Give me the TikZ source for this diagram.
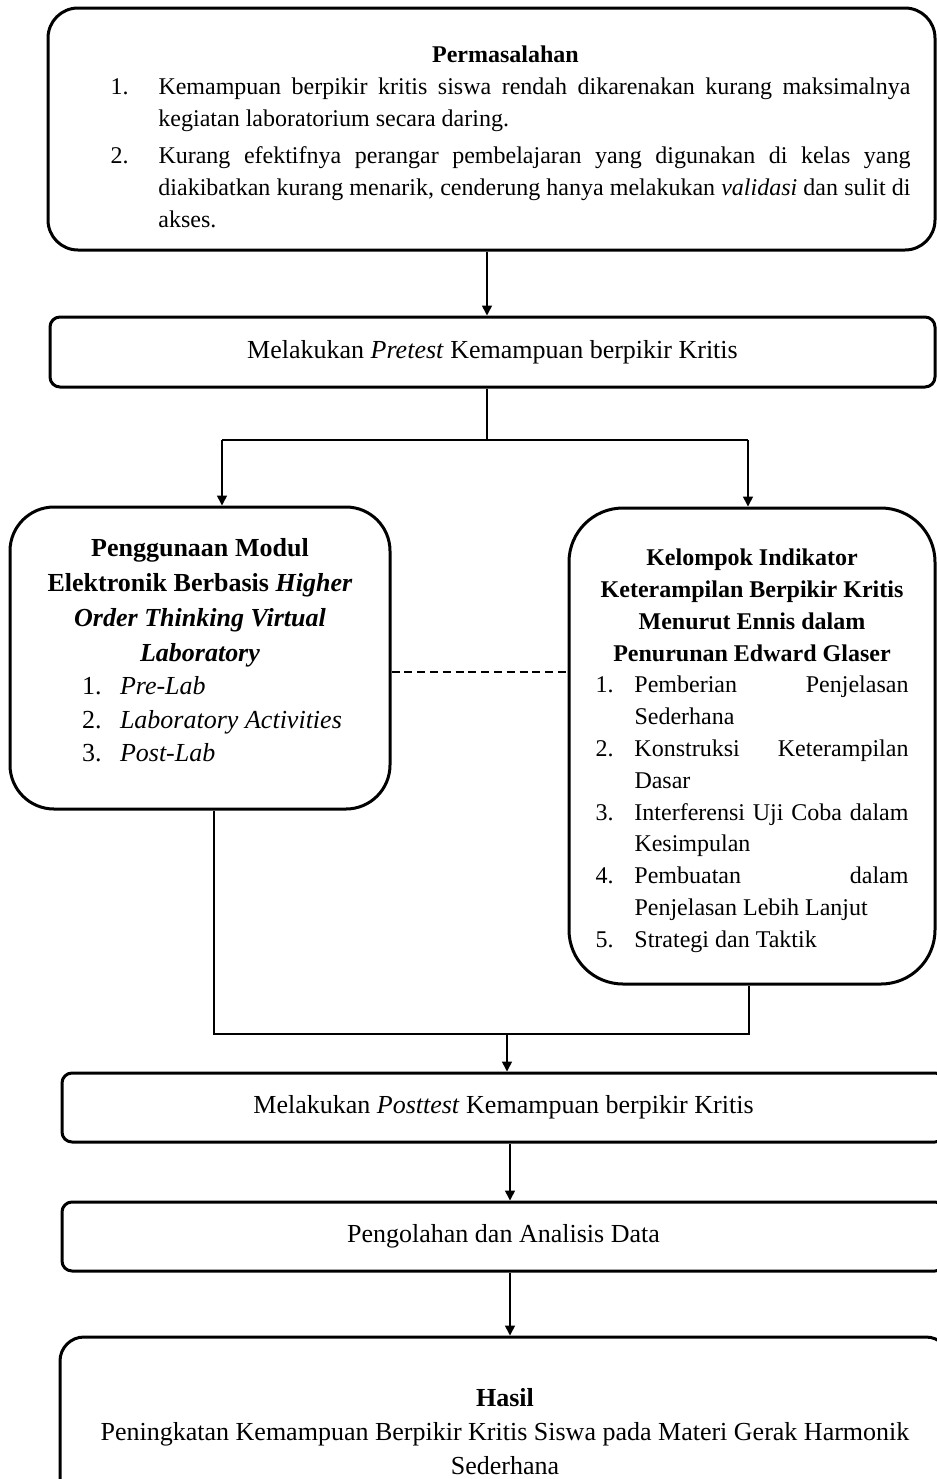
\documentclass[tikz,border=0pt]{standalone}
\usepackage{fontspec}
\setmainfont{Liberation Serif}
\usetikzlibrary{arrows.meta}
\hbadness=10000
\newcommand{\butir}[3]{\par\noindent\hangindent=#1\hangafter=1\makebox[#1][l]{#2}#3\par}

\tikzset{
  kotak/.style={draw, line width=1.5pt, inner sep=0pt, rounded corners=5pt},
  panah/.style={line width=0.8pt, -{Triangle[length=5pt, width=5pt]}},
  garis/.style={line width=0.8pt},
}

\begin{document}
\begin{tikzpicture}[x=0.5pt, y=-0.5pt]
  \useasboundingbox (0,0) rectangle (937,1479);
  \clip (0,0) rectangle (937,1479);
  % kotak permasalahan
  \node[kotak, rounded corners=15pt, minimum width=443.5pt, minimum height=121pt,
        text width=419pt, align=justify] (masalah) at (491.5,129) {%
    \fontsize{12}{16}\selectfont\leftskip=19pt
    {\centering\hspace*{14pt}\rule{0pt}{16pt}\bfseries Permasalahan\par}
    \butir{24pt}{1.}{Kemampuan berpikir kritis siswa rendah dikarenakan kurang maksimalnya\linebreak kegiatan laboratorium secara daring.}
    \vspace{2.5pt}
    \butir{24pt}{2.}{Kurang efektifnya perangar pembelajaran yang digunakan di kelas yang\linebreak diakibatkan kurang menarik, cenderung hanya melakukan \textit{validasi} dan sulit di\linebreak akses.}};
  \node[kotak, minimum width=442.5pt, minimum height=35pt,
        font=\fontsize{13}{16}\selectfont] (pretest) at (492.5,352)
    {Melakukan \textit{Pretest} Kemampuan berpikir Kritis};
  % dua kotak tengah
  \node[kotak, rounded corners=22pt, minimum width=190pt, minimum height=151pt,
        text width=160pt] (modul) at (200,658) {%
    \fontsize{13}{17.5}\selectfont
    {\centering\bfseries Penggunaan Modul\\ Elektronik Berbasis \textit{Higher}\\ \textit{Order Thinking Virtual}\\ \textit{Laboratory}\par}
    \fontsize{13}{16.8}\selectfont\raggedright\leftskip=21pt
    \butir{19pt}{1.}{\textit{Pre-Lab}}
    \butir{19pt}{2.}{\textit{Laboratory Activities}}
    \butir{19pt}{3.}{\textit{Post-Lab}\rule[-8pt]{0pt}{8pt}}};
  \node[kotak, rounded corners=27pt, minimum width=183pt, minimum height=238pt,
        text width=156.5pt, align=justify] (indikator) at (752,746) {%
    \fontsize{12}{15.9}\selectfont
    {\centering\rule{0pt}{13pt}\bfseries Kelompok Indikator\\ Keterampilan Berpikir Kritis\\ Menurut Ennis dalam\\ Penurunan Edward Glaser\par}
    \butir{19.5pt}{1.}{Pemberian Penjelasan\linebreak Sederhana}
    \butir{19.5pt}{2.}{Konstruksi Keterampilan\linebreak Dasar}
    \butir{19.5pt}{3.}{Interferensi Uji Coba dalam\linebreak Kesimpulan}
    \butir{19.5pt}{4.}{Pembuatan dalam\linebreak Penjelasan Lebih Lanjut}
    \butir{19.5pt}{5.}{Strategi dan Taktik}};
  % kotak bawah
  \node[kotak, minimum width=441.5pt, minimum height=34.5pt,
        font=\fontsize{13}{16}\selectfont] (posttest) at (503.5,1107.5)
    {Melakukan \textit{Posttest} Kemampuan berpikir Kritis};
  \node[kotak, minimum width=441.5pt, minimum height=34.5pt,
        font=\fontsize{13}{16}\selectfont] (olah) at (503.5,1236.5)
    {Pengolahan dan Analisis Data};
  \node[kotak, rounded corners=12pt, minimum width=445pt, minimum height=95pt,
        text width=430pt, align=flush center, font=\fontsize{13}{17}\selectfont] (hasil) at (505,1432)
    {\textbf{Hasil}\\ Peningkatan Kemampuan Berpikir Kritis Siswa pada Materi Gerak Harmonik\\ Sederhana};

  \coordinate (tengah) at (487,440);
  \coordinate (kiri) at (222,440);
  \coordinate (kanan) at (748,440);
  \coordinate (putus) at (480,672);
  \coordinate (gabkiri) at (214,1034);
  \coordinate (gabkanan) at (749,1034);
  \coordinate (gabtengah) at (507,1034);
  \coordinate (bawah) at (510,1200);

  \draw[panah] (masalah.south -| tengah) -- (pretest.north -| tengah);
  \draw[garis] (pretest.south -| tengah) -- (tengah);
  \draw[garis] (kiri) -- (kanan);
  \draw[panah] (kiri) -- (modul.north -| kiri);
  \draw[panah] (kanan) -- (indikator.north -| kanan);
  \draw[garis, dash pattern=on 4pt off 2.4pt] (modul.east |- putus) -- (indikator.west |- putus);
  \draw[garis] (modul.south -| gabkiri) -- (gabkiri) -- (gabkanan) -- (indikator.south -| gabkanan);
  \draw[panah] (gabtengah) -- (posttest.north -| gabtengah);
  \draw[panah] (posttest.south -| bawah) -- (olah.north -| bawah);
  \draw[panah] (olah.south -| bawah) -- (hasil.north -| bawah);
\end{tikzpicture}
\end{document}
